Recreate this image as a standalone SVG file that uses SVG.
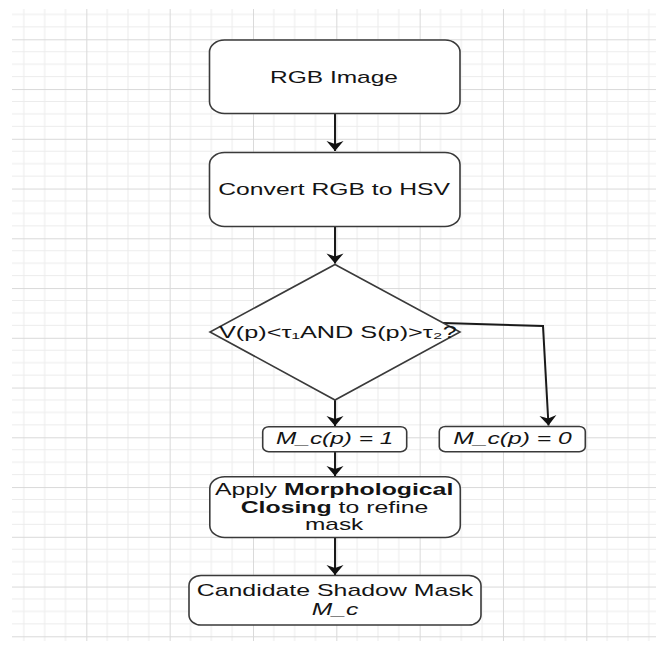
<svg xmlns="http://www.w3.org/2000/svg" width="656" height="647" viewBox="0 0 656 647">
  <defs>
    <pattern id="grid" patternUnits="userSpaceOnUse" x="3" y="39.3" width="83.33" height="49.75">
      <g stroke="#ececec" stroke-width="1">
        <line x1="20.83" y1="0" x2="20.83" y2="49.75"/>
        <line x1="41.67" y1="0" x2="41.67" y2="49.75"/>
        <line x1="62.5" y1="0" x2="62.5" y2="49.75"/>
        <line x1="0" y1="12.44" x2="83.33" y2="12.44"/>
        <line x1="0" y1="24.88" x2="83.33" y2="24.88"/>
        <line x1="0" y1="37.31" x2="83.33" y2="37.31"/>
      </g>
      <g stroke="#d9d9d9" stroke-width="1">
        <line x1="0.5" y1="0" x2="0.5" y2="49.75"/>
        <line x1="0" y1="0.5" x2="83.33" y2="0.5"/>
      </g>
    </pattern>
    <marker id="arrow" markerUnits="userSpaceOnUse" markerWidth="24" markerHeight="24" viewBox="-12 -12 24 24" refX="0" refY="0" orient="auto">
      <path d="M0,0 L-10,-8.5 L-7,0 L-10,8.5 Z" fill="#111"/>
    </marker>
  </defs>
  <style>
    .box { fill: #ffffff; stroke: #3a3a3a; stroke-width: 1.6; }
    .conn { fill: none; stroke: #1a1a1a; stroke-width: 2; marker-end: url(#arrow); }
    .t { font-family: "Liberation Sans", Arial, sans-serif; font-size: 17px; fill: #141414; }
    .i { font-style: italic; }
    .b { font-weight: bold; }
  </style>

  <rect x="0" y="0" width="656" height="647" fill="#ffffff"/>
  <rect x="12" y="9" width="644" height="632" fill="url(#grid)"/>

  <g id="connectors">
    <path class="conn" d="M335,114 L335,151"/>
    <path class="conn" d="M335,227 L335,263.5"/>
    <path class="conn" d="M335,400 L335,426"/>
    <path class="conn" d="M443,323 L543,326 L548.5,425.5"/>
    <path class="conn" d="M335,452 L335,476"/>
    <path class="conn" d="M335,538 L335,575"/>
  </g>

  <g id="rgb-image">
    <rect class="box" x="209.5" y="40" width="250.5" height="73.5" rx="15" ry="12"/>
    <text class="t" x="270" y="83.3" textLength="128" lengthAdjust="spacingAndGlyphs">RGB Image</text>
  </g>

  <g id="convert-hsv">
    <rect class="box" x="209.5" y="152.5" width="250.5" height="74" rx="15" ry="12"/>
    <text class="t" x="218.3" y="195" textLength="231.7" lengthAdjust="spacingAndGlyphs">Convert RGB to HSV</text>
  </g>

  <g id="decision">
    <polygon class="box" points="335,264.5 460,332 335,400 210,332"/>
    <text class="t" x="219" y="338.3" textLength="237.7" lengthAdjust="spacingAndGlyphs">V(p)&lt;τ₁AND S(p)&gt;τ₂?</text>
  </g>

  <g id="mc-one">
    <rect class="box" x="262.7" y="426.7" width="144" height="25" rx="6" ry="5"/>
    <text class="t i" x="276" y="443.8" textLength="117.3" lengthAdjust="spacingAndGlyphs">M_c(p) = 1</text>
  </g>

  <g id="mc-zero">
    <rect class="box" x="439.3" y="426.5" width="146" height="25.2" rx="6" ry="5"/>
    <text class="t i" x="453.3" y="443.8" textLength="118.4" lengthAdjust="spacingAndGlyphs">M_c(p) = 0</text>
  </g>

  <g id="morph-closing">
    <rect class="box" x="209.8" y="476.7" width="250.5" height="60.8" rx="15" ry="12"/>
    <text class="t" x="215" y="495" textLength="238.3" lengthAdjust="spacingAndGlyphs">Apply <tspan class="b">Morphological</tspan></text>
    <text class="t" x="240.7" y="512.7" textLength="187.6" lengthAdjust="spacingAndGlyphs"><tspan class="b">Closing</tspan> to refine</text>
    <text class="t" x="305" y="530" textLength="58.3" lengthAdjust="spacingAndGlyphs">mask</text>
  </g>

  <g id="candidate-mask">
    <rect class="box" x="189" y="575.5" width="292" height="49.5" rx="12" ry="10"/>
    <text class="t" x="196.7" y="596.3" textLength="276.6" lengthAdjust="spacingAndGlyphs">Candidate Shadow Mask</text>
    <text class="t i" x="311.7" y="615.3" textLength="46.6" lengthAdjust="spacingAndGlyphs">M_c</text>
  </g>
</svg>
